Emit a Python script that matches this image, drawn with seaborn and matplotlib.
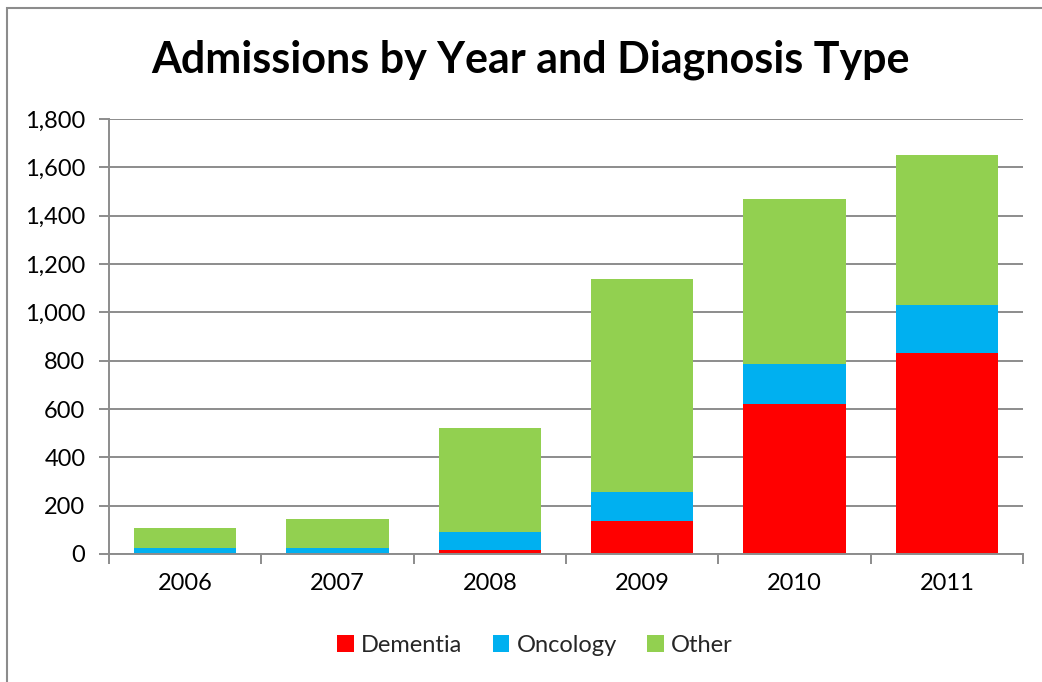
import matplotlib
matplotlib.use('Agg')
import matplotlib.pyplot as plt
from matplotlib.patches import Patch, Rectangle
from matplotlib.ticker import FuncFormatter, FixedLocator
import seaborn as sns
import numpy as np
import pandas as pd

# values
years = ["2006", "2007", "2008", "2009", "2010", "2011"]
dementia = [0, 0, 15, 135, 622, 830]
oncology = [26, 26, 77, 120, 164, 200]
other = [80, 117, 430, 881, 683, 621]

series = ["Dementia", "Oncology", "Other"]
colors = {"Dementia": "#FF0000", "Oncology": "#00B0F0", "Other": "#92D050"}

sns.set_theme(style="white")
plt.rcParams['font.family'] = ['Lato', 'DejaVu Sans']

df = pd.DataFrame({"year": years, "Dementia": dementia,
                   "Oncology": oncology, "Other": other})
# cumulative tops for stacking
df["top_Dementia"] = df["Dementia"]
df["top_Oncology"] = df["Dementia"] + df["Oncology"]
df["top_Other"] = df["top_Oncology"] + df["Other"]

fig = plt.figure(figsize=(10.42, 6.82), dpi=100)
ax = fig.add_axes([109 / 1042, 1 - 554 / 682, (1023 - 109) / 1042, (554 - 119) / 682])

grid_color = "#8C8C8C"
ax.set_ylim(0, 1800)
ax.yaxis.set_major_locator(FixedLocator(np.arange(0, 1801, 200)))
ax.grid(axis="y", color=grid_color, linewidth=1.4)
ax.set_axisbelow(True)

# draw from the tallest layer down so each stack shows
for s in reversed(series):
    sns.barplot(data=df, x="year", y="top_" + s, color=colors[s],
                width=0.67, saturation=1, ax=ax, zorder=2, linewidth=0)

ax.set_xlim(-0.5, 5.5)
ax.set_xlabel("")
ax.set_ylabel("")
ax.yaxis.set_major_formatter(FuncFormatter(lambda v, p: f"{int(v):,}"))

for side in ["top", "right"]:
    ax.spines[side].set_visible(False)
for side in ["left", "bottom"]:
    ax.spines[side].set_color(grid_color)
    ax.spines[side].set_linewidth(1.4)

ax.tick_params(axis="y", which="major", length=7, width=1.4, color=grid_color,
               direction="out", labelsize=17, pad=10, left=True)
ax.tick_params(axis="x", which="major", length=0, labelsize=17, pad=14)
ax.set_xticks(np.arange(-0.5, 6, 1), minor=True)
ax.tick_params(axis="x", which="minor", length=7, width=1.4, color=grid_color,
               direction="out", bottom=True)
for lbl in ax.get_xticklabels() + ax.get_yticklabels():
    lbl.set_color("black")

fig.text(530 / 1042, 1 - 60 / 682, "Admissions by Year and Diagnosis Type",
         ha="center", va="center", fontsize=31, fontweight="bold", color="black")

handles = [Patch(facecolor=colors[s], edgecolor="none", label=s) for s in series]
fig.legend(handles=handles, loc="center", bbox_to_anchor=(535 / 1042, 1 - 645 / 682),
           ncol=3, frameon=False, fontsize=17, handlelength=0.7, handleheight=0.7,
           handletextpad=0.3, columnspacing=1.3)

# outer chart border (runs off the right and bottom of the picture)
fig.patches.append(Rectangle((7 / 1042, -0.1), 1.2, 0.1 + 1 - 8 / 682,
                             transform=fig.transFigure, fill=False,
                             edgecolor="#8C8C8C", linewidth=1.5))

fig.savefig("out.png", dpi=100)
